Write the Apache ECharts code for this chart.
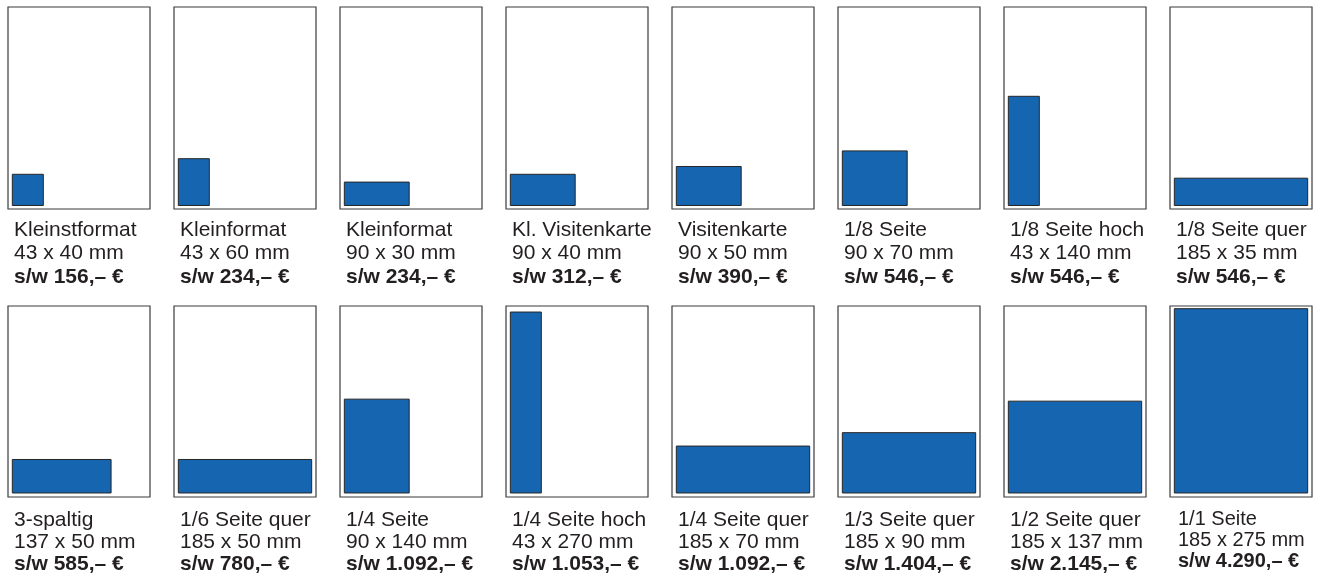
<!DOCTYPE html>
<html><head><meta charset="utf-8">
<script src="https://cdn.jsdelivr.net/npm/echarts@6/dist/echarts.min.js"></script>
<style>html,body{margin:0;padding:0;background:#fff}#c{width:1325px;height:576px}</style>
</head><body><div id="c"></div>
<script>
// Anzeigenformate: Name, Breite x Höhe (mm), Preis s/w (€)
const names = ['Kleinstformat','Kleinformat','Kleinformat','Kl. Visitenkarte','Visitenkarte','1/8 Seite','1/8 Seite hoch','1/8 Seite quer',
               '3-spaltig','1/6 Seite quer','1/4 Seite','1/4 Seite hoch','1/4 Seite quer','1/3 Seite quer','1/2 Seite quer','1/1 Seite'];
const widthsMm  = [43, 43, 90, 90, 90, 90, 43, 185, 137, 185, 90, 43, 185, 185, 185, 185];
const heightsMm = [40, 60, 30, 40, 50, 70, 140, 35, 50, 50, 140, 270, 70, 90, 137, 275];
const prices = ['156','234','234','312','390','546','546','546','585','780','1.092','1.053','1.092','1.404','2.145','4.290'];
const pageWidthMm = 197;
const rowPageHeightMm = [259, 285];

const FONT = '"Liberation Sans", Arial, sans-serif';
const grids = [], xAxes = [], yAxes = [], series = [], titles = [];
for (let i = 0; i < names.length; i++) {
  const row = Math.floor(i / 8), col = i % 8;
  const left = 8 + col * 166;
  const top = row ? 306 : 7;
  const h = row ? 191 : 202;
  grids.push({left: left, top: top, width: 142, height: h, show: true,
    borderColor: '#3a3a3a', borderWidth: 1.2, backgroundColor: '#fff'});
  xAxes.push({type: 'value', gridIndex: i, min: 0, max: pageWidthMm, show: false});
  yAxes.push({type: 'value', gridIndex: i, min: 0, max: rowPageHeightMm[row], show: false});
  const offY = row ? 6 : 4.5;
  series.push({
    type: 'custom', xAxisIndex: i, yAxisIndex: i, silent: true,
    data: [[6, offY, widthsMm[i], heightsMm[i]]],
    renderItem: function (params, api) {
      const p0 = api.coord([api.value(0), api.value(1)]);
      const p1 = api.coord([api.value(0) + api.value(2), api.value(1) + api.value(3)]);
      return {type: 'rect',
        shape: {x: p0[0], y: p1[1], width: p1[0] - p0[0], height: p0[1] - p1[1]},
        style: {fill: '#1565b0', stroke: '#262626', lineWidth: 1}};
    }
  });
  const small = (i === 15);
  const n = small ? 'ns' : 'n', b = small ? 'bs' : 'b';
  titles.push({
    left: left + (small ? 8 : 6), top: row ? 509 : 218, padding: 0,
    text: '{' + n + '|' + names[i] + '}\n{' + n + '|' + widthsMm[i] + ' x ' + heightsMm[i] + ' mm}\n{' + b + '|s/w ' + prices[i] + ',– €}',
    textStyle: {
      fontWeight: 'normal',
      rich: {
        n:  {fontFamily: FONT, fontSize: 21, lineHeight: row ? 22 : 23.5, color: '#231f20', fontWeight: 'normal'},
        b:  {fontFamily: FONT, fontSize: 21, lineHeight: row ? 22 : 23.5, color: '#231f20', fontWeight: 'bold'},
        ns: {fontFamily: FONT, fontSize: 20, lineHeight: 21, color: '#231f20', fontWeight: 'normal'},
        bs: {fontFamily: FONT, fontSize: 20, lineHeight: 21, color: '#231f20', fontWeight: 'bold'}
      }
    }
  });
}
const chart = echarts.init(document.getElementById('c'), null, {renderer: 'canvas'});
chart.setOption({animation: false, backgroundColor: '#fff', title: titles, grid: grids, xAxis: xAxes, yAxis: yAxes, series: series});
</script></body></html>
